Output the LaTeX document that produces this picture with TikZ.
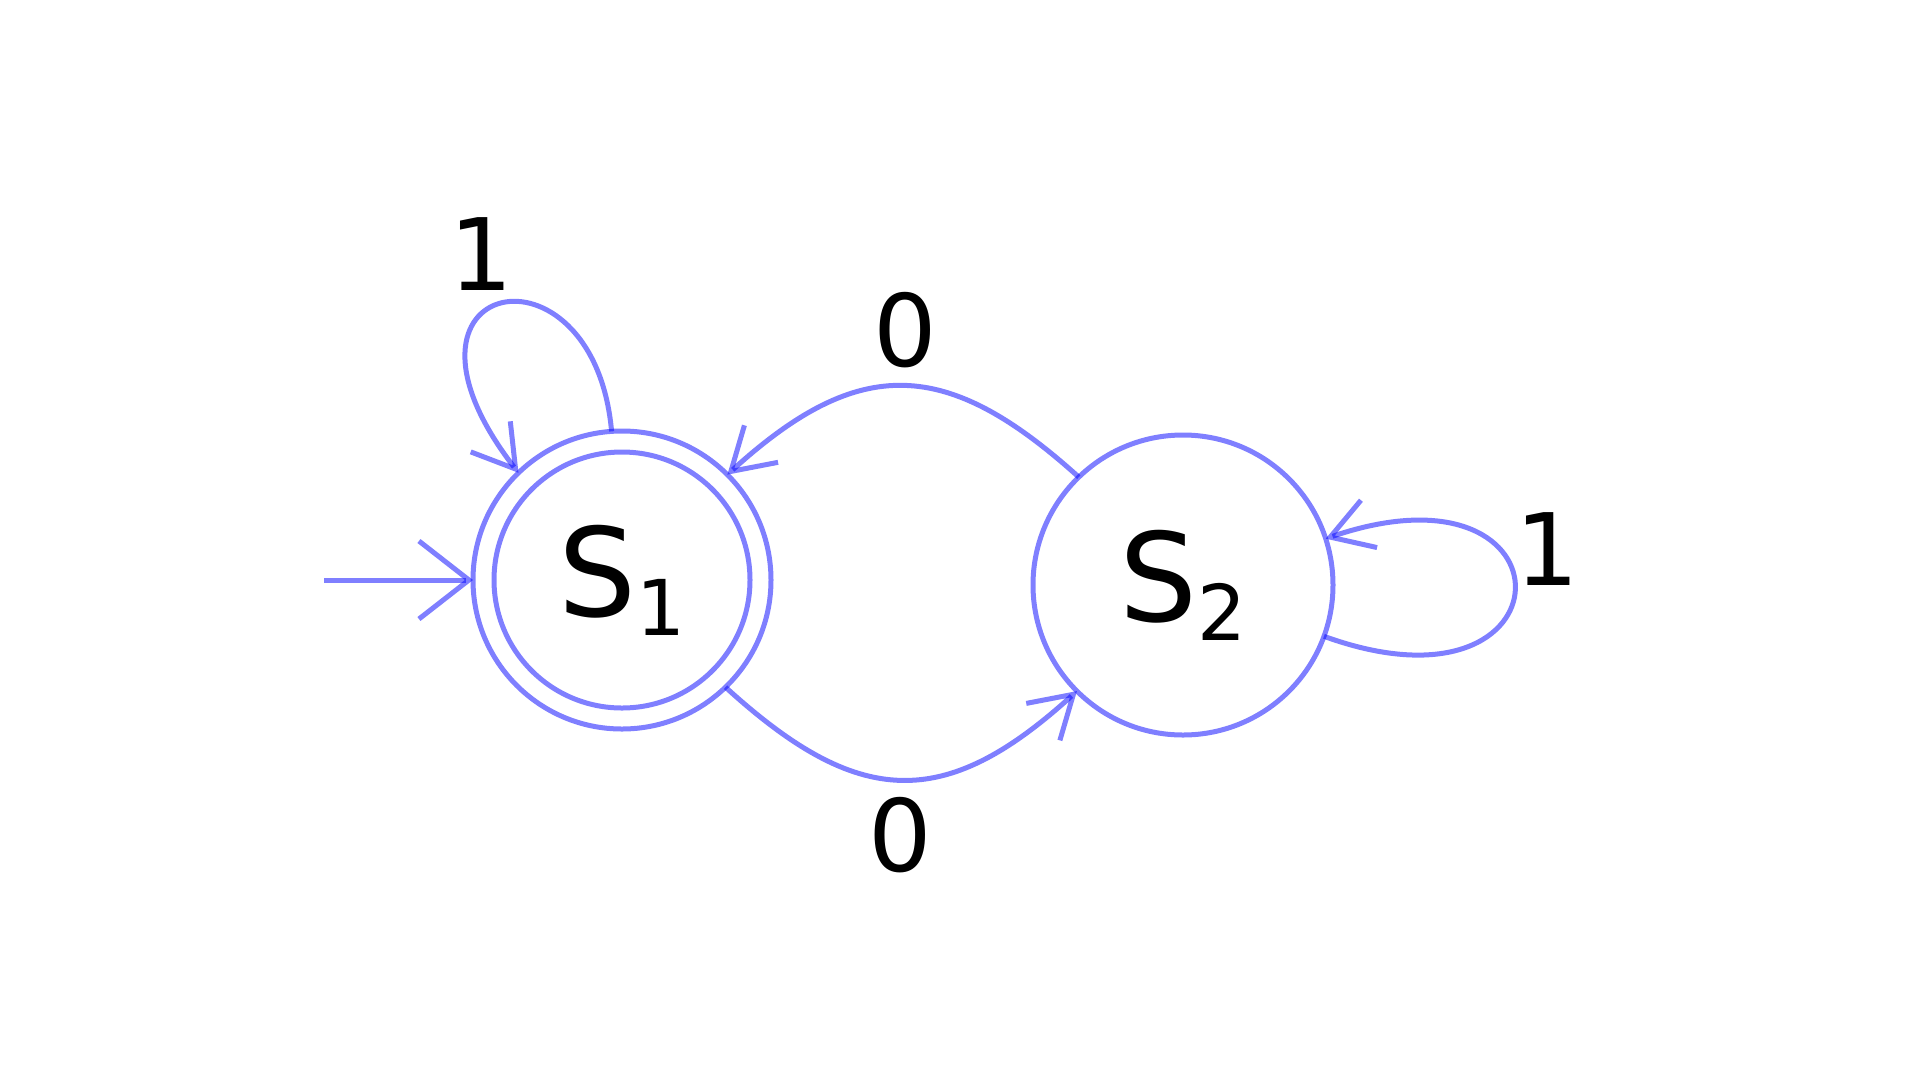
\documentclass[tikz,border=0pt]{standalone}
\usepackage{fontspec}
\setmainfont{DejaVu Sans}
\usetikzlibrary{arrows.meta}
\newcommand{\stsub}[1]{\lower19pt\hbox{\fontsize{77}{77}\selectfont #1}}
\tikzset{
  statebox/.style={circle, draw=blue, draw opacity=0.5, line width=5pt, inner sep=0pt, outer sep=0pt, minimum size=#1},
  edge/.style={draw=blue, draw opacity=0.5, line width=5pt, line cap=butt,
    -{Straight Barb[length=41pt, width=50pt, line cap=butt]}},
  initedge/.style={draw=blue, draw opacity=0.5, line width=5pt, line cap=butt,
    -{Straight Barb[length=50pt, width=78pt, line cap=butt]}},
  statetext/.style={font=\fontsize{123}{140}\selectfont},
  lbl/.style={font=\fontsize{100}{120}\selectfont, inner sep=0pt}
}
\begin{document}
\begin{tikzpicture}[x=1pt, y=-1pt]
\useasboundingbox (0,0) rectangle (1920,1080);
% states
\node[statebox=298pt, statetext] (s1) at (622,580) {S\stsub{1}};
\node[statebox=256pt] (s1in) at (s1.center) {};
\node[statebox=300pt, statetext] (s2) at (1183,585) {S\stsub{2}};
% initial arrow
\coordinate (init) at (324,580);
\draw[initedge] (init) -- (s1.west);
% self-loop on S1
\draw[edge] (s1.94) .. controls (593.6,230.8) and (367.5,277.4) .. (s1.134);
% S2 -> S1 (top)
\draw[edge] (s2.134) .. controls (947,358) and (860,354) .. (s1.45);
% S1 -> S2 (bottom)
\draw[edge] (s1.-46) .. controls (858,808) and (944,812) .. (s2.225);
% self-loop on S2
\draw[edge] (s2.-20) .. controls (1575.6,727.6) and (1580,452) .. (s2.18);
% labels
\node[lbl] (l1) at (481,254) {1};
\node[lbl] (l2) at (905,330) {0};
\node[lbl] (l3) at (900.5,835) {0};
\node[lbl] (l4) at (1547,549.5) {1};
\end{tikzpicture}
\end{document}
